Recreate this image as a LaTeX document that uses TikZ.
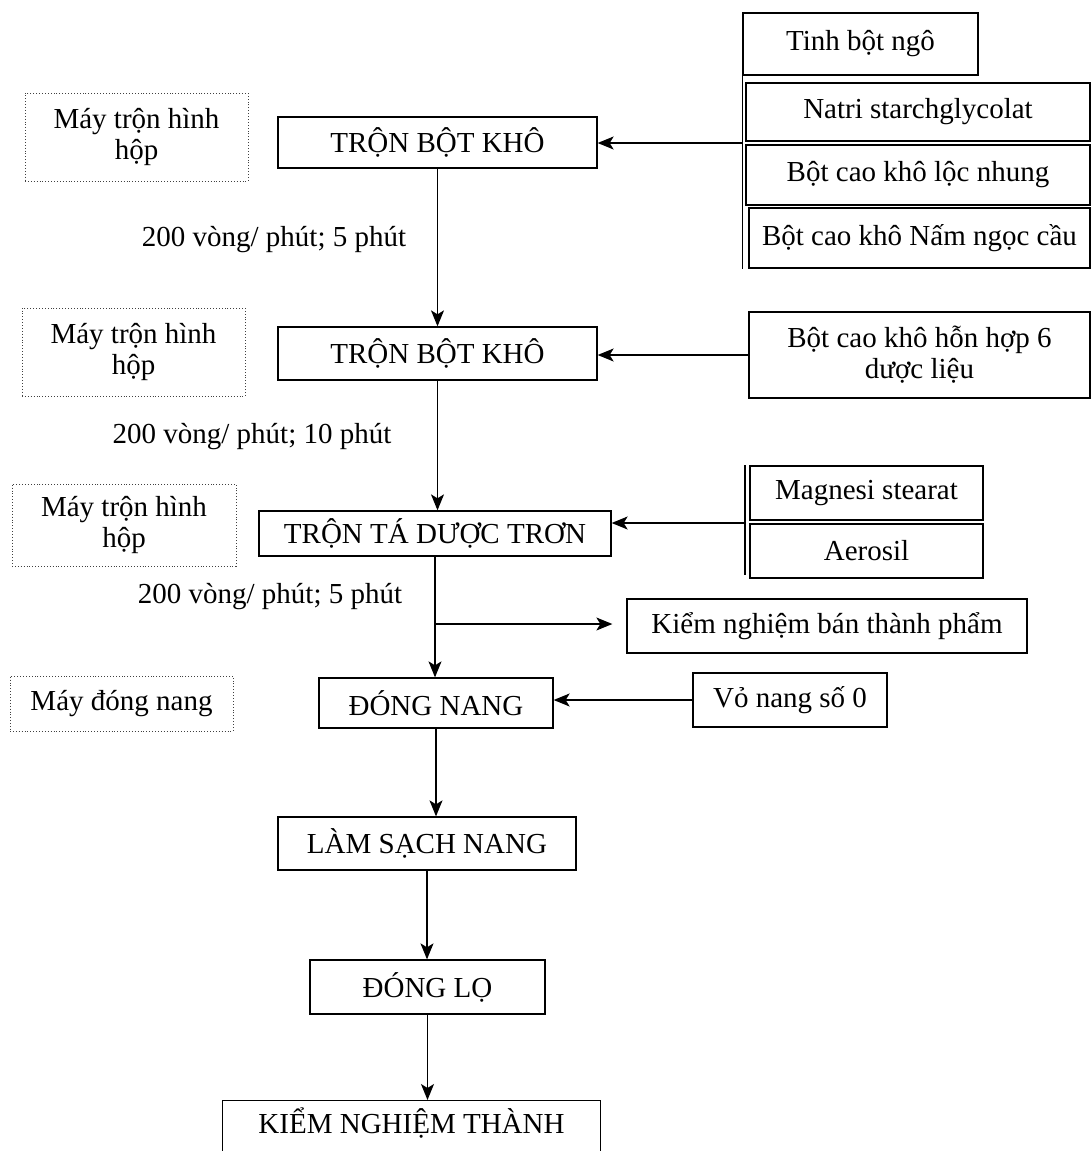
\documentclass[tikz,border=0pt]{standalone}
\usepackage{fontspec}
\setmainfont{Liberation Serif}
\usetikzlibrary{arrows.meta}
\tikzset{
  proc box/.style={draw,line width=1.3pt,inner sep=0pt,align=center},
  mach box/.style={draw,black!75,text=black,dotted,line width=0.9pt,inner sep=0pt,align=center},
  flow edge/.style={-{Stealth[length=16pt,width=13pt,inset=4pt]},line width=1.3pt},
  flow line/.style={line width=1.3pt},
  speed text/.style={inner sep=0pt},
}

\begin{document}
\begin{tikzpicture}[x=1pt,y=-1pt,font=\fontsize{29}{31}\selectfont]
  \useasboundingbox (0,0) rectangle (1091,1151);
  \clip (0,0) rectangle (1091,1151);
  \node[proc box,minimum width=235pt,minimum height=62pt] (tinh) at (860.5,44) {Tinh bột ngô};
  \node[proc box,minimum width=344pt,minimum height=58pt] (natri) at (918,112) {Natri starchglycolat};
  \node[proc box,minimum width=344pt,minimum height=60pt] (loc) at (918,175) {Bột cao khô lộc nhung};
  \node[proc box,minimum width=341pt,minimum height=60pt] (nam) at (919.5,238) {Bột cao khô Nấm ngọc cầu};
  \node[mach box,minimum width=223pt,minimum height=88pt] (mach1) at (136.5,137) {Máy trộn hình\\hộp};
  \node[proc box,minimum width=319pt,minimum height=51pt] (mix1) at (437.5,142.5) {TRỘN BỘT KHÔ};
  \node[speed text] (lab1) at (274,240) {200 vòng/ phút; 5 phút};
  \node[mach box,minimum width=223pt,minimum height=88pt] (mach2) at (133.5,352) {Máy trộn hình\\hộp};
  \node[proc box,minimum width=319pt,minimum height=53pt] (mix2) at (437.5,353.5) {TRỘN BỘT KHÔ};
  \node[proc box,minimum width=341pt,minimum height=86pt] (hon) at (919.5,355) {Bột cao khô hỗn hợp 6\\dược liệu};
  \node[speed text] (lab2) at (252,437) {200 vòng/ phút; 10 phút};
  \node[mach box,minimum width=224pt,minimum height=82pt] (mach3) at (124,525) {Máy trộn hình\\hộp};
  \node[proc box,minimum width=352pt,minimum height=45pt] (tron) at (435,533.5) {TRỘN TÁ DƯỢC TRƠN};
  \node[proc box,minimum width=233pt,minimum height=54pt] (mag) at (866.5,493) {Magnesi stearat};
  \node[proc box,minimum width=233pt,minimum height=54pt] (aero) at (866.5,551) {Aerosil};
  \node[speed text] (lab3) at (270,597) {200 vòng/ phút; 5 phút};
  \node[proc box,minimum width=400pt,minimum height=54pt] (kbtp) at (827,626) {Kiểm nghiệm bán thành phẩm};
  \node[mach box,minimum width=223pt,minimum height=55pt] (mach4) at (121.5,703.5) {Máy đóng nang};
  \node[proc box,minimum width=234pt,minimum height=50pt] (dong) at (436,703) {ĐÓNG NANG};
  \node[proc box,minimum width=194pt,minimum height=54pt] (vo) at (790,700) {Vỏ nang số 0};
  \node[proc box,minimum width=298pt,minimum height=53pt] (lam) at (427,843.5) {LÀM SẠCH NANG};
  \node[proc box,minimum width=235pt,minimum height=54pt] (lo) at (427.5,987) {ĐÓNG LỌ};
  \node[proc box,anchor=north,minimum width=378pt,inner ysep=12pt,text height=21pt,text depth=80pt] (kntp) at (411.5,1100) {KIỂM NGHIỆM THÀNH};
  \coordinate (in1) at (743,143);
  \coordinate (in3) at (745,523);
  \coordinate (br) at (435,624);
  \draw[flow line] (tinh.north west) -- (tinh.north west |- nam.south);
  \draw[flow edge] (in1) -- (in1 -| mix1.east);
  \draw[flow edge] (mix1) -- (mix2);
  \draw[flow edge] (hon.west) -- (hon.west -| mix2.east);
  \draw[flow edge] (mix2.south) -- (mix2.south |- tron.north);
  \draw[flow line] (in3 |- mag.north) -- ([yshift=4pt]in3 |- aero.south);
  \draw[flow edge] (in3) -- (in3 -| tron.east);
  \draw[flow edge] (tron.south) -- (tron.south |- dong.north);
  \draw[flow edge,shorten >=14pt] (br) -- (br -| kbtp.west);
  \draw[flow edge] (vo.west) -- (vo.west -| dong.east);
  \draw[flow edge] (dong.south) -- (dong.south |- lam.north);
  \draw[flow edge] (lam.south) -- (lam.south |- lo.north);
  \draw[flow edge] (lo.south) -- (lo.south |- kntp.north);
\end{tikzpicture}
\end{document}
